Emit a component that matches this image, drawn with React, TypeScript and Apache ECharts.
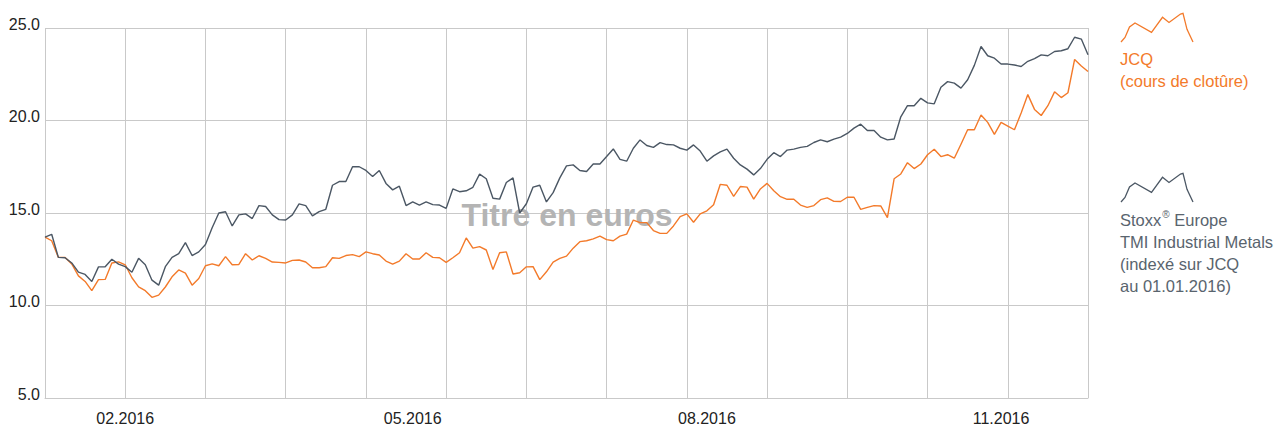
import React, { useEffect, useRef } from "react";
import * as echarts from "echarts";

// JCQ closing price (EUR), sampled trading days 2016
const jcq = [
  13.7, 13.5, 12.6, 12.6, 12.25, 11.6, 11.3, 10.8, 11.4, 11.41,
  12.3, 12.36, 12.2, 11.5, 11.01, 10.8, 10.44, 10.56, 11.0, 11.55,
  11.92, 11.75, 11.1, 11.46, 12.15, 12.25, 12.15, 12.64, 12.2, 12.22,
  12.8, 12.46, 12.69, 12.55, 12.35, 12.33, 12.3, 12.44, 12.46, 12.35,
  12.04, 12.04, 12.1, 12.58, 12.55, 12.7, 12.75, 12.64, 12.9, 12.8,
  12.73, 12.4, 12.24, 12.4, 12.8, 12.51, 12.51, 12.85, 12.6, 12.58,
  12.33, 12.58, 12.85, 13.65, 13.1, 13.18, 13.0, 11.95, 12.85, 12.9,
  11.7, 11.77, 12.09, 12.1, 11.4, 11.82, 12.35, 12.55, 12.67, 13.1,
  13.45, 13.5, 13.6, 13.75, 13.56, 13.5, 13.75, 13.86, 14.62, 14.48,
  14.48, 14.05, 13.9, 13.9, 14.3, 14.8, 14.95, 14.5, 14.95, 15.12,
  15.45, 16.55, 16.5, 15.9, 16.43, 16.4, 15.75, 16.3, 16.6, 16.2,
  15.88, 15.74, 15.74, 15.43, 15.3, 15.4, 15.72, 15.82, 15.63, 15.62,
  15.85, 15.85, 15.2, 15.3, 15.4, 15.38, 14.75, 16.85, 17.11, 17.72,
  17.4, 17.65, 18.15, 18.45, 18.05, 18.15, 17.96, 18.72, 19.5, 19.5,
  20.3, 19.9, 19.25, 19.9, 19.7, 19.5, 20.4, 21.4, 20.6, 20.27,
  20.8, 21.55, 21.24, 21.5, 23.3, 22.95, 22.65,
];

// Stoxx Europe TMI Industrial Metals, indexed on JCQ at 01.01.2016
const stoxx = [
  13.7, 13.85, 12.6, 12.58, 12.3, 11.8, 11.68, 11.3, 12.09, 12.09,
  12.5, 12.24, 12.1, 11.8, 12.55, 12.2, 11.37, 11.1, 12.1, 12.6,
  12.8, 13.4, 12.7, 12.9, 13.3, 14.2, 15.0, 15.07, 14.3, 14.9,
  14.95, 14.7, 15.4, 15.35, 14.9, 14.64, 14.62, 14.9, 15.49, 15.4,
  14.84, 15.07, 15.2, 16.5, 16.7, 16.7, 17.5, 17.5, 17.3, 16.97,
  17.3, 16.6, 16.25, 16.45, 15.4, 15.6, 15.43, 15.6, 15.45, 15.43,
  15.25, 16.3, 16.15, 16.2, 16.39, 17.1, 16.85, 15.8, 15.75, 16.65,
  16.9, 15.0, 15.5, 16.4, 16.5, 15.6, 16.1, 16.9, 17.55, 17.6,
  17.3, 17.24, 17.65, 17.65, 18.05, 18.46, 17.9, 17.8, 18.5, 18.95,
  18.65, 18.55, 18.8, 18.7, 18.68, 18.5, 18.4, 18.68, 18.35, 17.8,
  18.09, 18.3, 18.45, 17.96, 17.6, 17.37, 17.06, 17.4, 17.9, 18.26,
  18.05, 18.4, 18.45, 18.55, 18.6, 18.81, 18.95, 18.85, 18.99, 19.1,
  19.3, 19.59, 19.8, 19.46, 19.46, 19.1, 18.95, 19.0, 20.2, 20.8,
  20.8, 21.2, 20.95, 20.9, 21.8, 22.1, 22.02, 21.75, 22.2, 22.98,
  24.0, 23.5, 23.37, 23.05, 23.05, 23.0, 22.92, 23.2, 23.35, 23.55,
  23.5, 23.73, 23.77, 23.88, 24.5, 24.4, 23.55,
];

const monthLabels = ["02.2016", "05.2016", "08.2016", "11.2016"];
const monthLabelIndex = [12, 55, 99, 143];
const gridEvery = 12;
const yMin = 5;
const yMax = 25;
const yStep = 5;

const seriesNames = ["JCQ (cours de clotûre)", "Stoxx® Europe TMI Industrial Metals"];
const categories = jcq.map((_, i) => `J${i + 1}`);

const FONT = "'Liberation Sans', Arial, Helvetica, sans-serif";
const ORANGE = "#f37a2a";
const DARK = "#4b5764";
const GRID = "#c9c9c9";
const LEGEND_GREY = "#59646e";

export default function App() {
  const ref = useRef<HTMLDivElement>(null);

  useEffect(() => {
    const chart = echarts.init(ref.current!, null, { renderer: "svg" });
    const iconPts = [
      [1121, 42], [1125, 37.5], [1129.5, 27], [1135, 23], [1151.5, 32.3],
      [1162.5, 17.3], [1169, 22.5], [1180.5, 14], [1183, 13.3], [1187, 29.3], [1193, 42],
    ];
    chart.setOption({
      animation: false,
      backgroundColor: "#ffffff",
      textStyle: { fontFamily: FONT },
      grid: { left: 45, right: 190, top: 28, bottom: 29, containLabel: false },
      xAxis: {
        type: "category",
        data: categories,
        boundaryGap: false,
        axisLine: { show: true, lineStyle: { color: GRID, width: 1 } },
        axisTick: { show: false },
        axisLabel: {
          interval: (i: number) => monthLabelIndex.includes(i),
          formatter: (_v: string, i: number) => {
            const k = monthLabelIndex.indexOf(i);
            return k >= 0 ? monthLabels[k] : "";
          },
          color: "#222",
          fontSize: 16,
          fontFamily: FONT,
          margin: 12,
        },
        splitLine: {
          show: true,
          interval: (i: number) => i % gridEvery === 0,
          lineStyle: { color: GRID, width: 1 },
        },
      },
      yAxis: {
        type: "value",
        min: yMin,
        max: yMax,
        interval: yStep,
        axisLine: { show: false },
        axisTick: { show: false },
        axisLabel: {
          formatter: (v: number) => v.toFixed(1),
          color: "#222",
          fontSize: 16,
          fontFamily: FONT,
          margin: 5,
          verticalAlign: "bottom",
          lineHeight: 8,
        },
        splitLine: { show: true, lineStyle: { color: GRID, width: 1 } },
      },
      series: [
        {
          name: seriesNames[0],
          type: "line",
          data: jcq,
          symbol: "none",
          showSymbol: false,
          lineStyle: { color: ORANGE, width: 1.4 },
          z: 3,
        },
        {
          name: seriesNames[1],
          type: "line",
          data: stoxx,
          symbol: "none",
          showSymbol: false,
          lineStyle: { color: DARK, width: 1.4 },
          z: 4,
        },
      ],
      graphic: [
        {
          type: "text",
          x: 567,
          y: 214.5,
          z: 1,
          style: {
            text: "Titre en euros",
            fill: "#b4b4b4",
            font: `bold 32px ${FONT}`,
            align: "center",
            verticalAlign: "middle",
          },
        },
        {
          type: "polyline",
          shape: { points: iconPts },
          style: { stroke: ORANGE, fill: null, lineWidth: 1.3 },
        },
        {
          type: "polyline",
          shape: { points: iconPts.map(([x, y]) => [x, y + 160]) },
          style: { stroke: DARK, fill: null, lineWidth: 1.3 },
        },
        {
          type: "text",
          x: 1120,
          y: 48,
          style: {
            text: "JCQ\n(cours de clotûre)",
            fill: ORANGE,
            font: `16.5px ${FONT}`,
            lineHeight: 22,
            align: "left",
            verticalAlign: "top",
          },
        },
        {
          type: "text",
          x: 1120,
          y: 209,
          style: {
            text: "{t|Stoxx}{r|®}{t| Europe}\n{t|TMI Industrial Metals}\n{t|(indexé sur JCQ}\n{t|au 01.01.2016)}",
            fill: LEGEND_GREY,
            align: "left",
            verticalAlign: "top",
            rich: {
              t: { fontSize: 16.5, fontFamily: FONT, lineHeight: 22, fill: LEGEND_GREY },
              r: { fontSize: 10, fontFamily: FONT, lineHeight: 22, verticalAlign: "top", fill: LEGEND_GREY, padding: [0, 0, 0, 1] },
            },
          },
        },
      ],
    });
    return () => chart.dispose();
  }, []);

  return (
    <div
      ref={ref}
      style={{ position: "absolute", left: 0, top: 0, width: 1278, height: 427 }}
    />
  );
}
